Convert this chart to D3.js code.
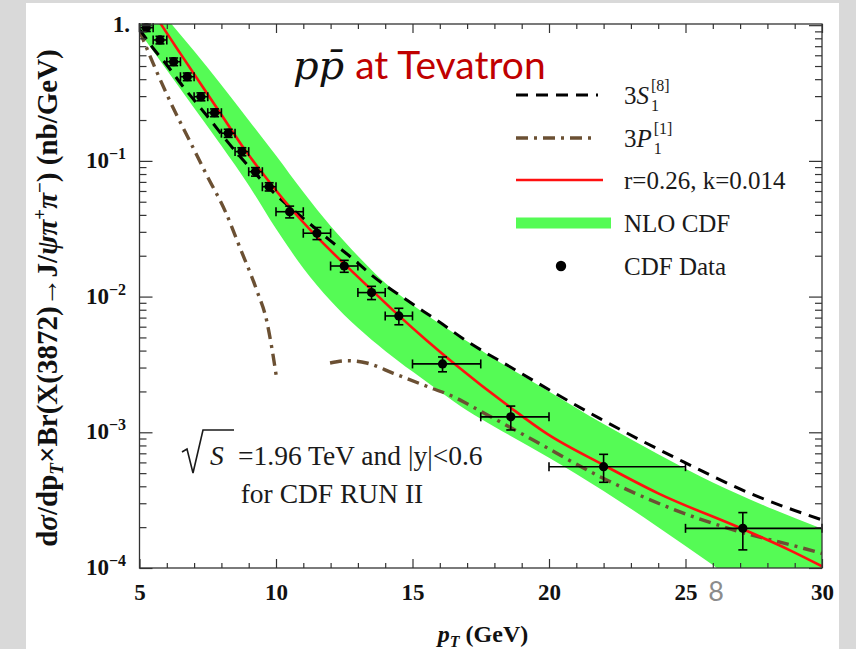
<!DOCTYPE html>
<html>
<head>
<meta charset="utf-8">
<script src="https://cdn.jsdelivr.net/npm/d3@7"></script>
<style>
  html, body { margin: 0; padding: 0; background: #d9d9d9; }
  svg { display: block; }
</style>
</head>
<body>
<svg id="chart" width="856" height="649"></svg>
<script>
// ---- CDF Run II data: dσ/dpT × Br(X(3872) → J/ψ π+ π−), nb/GeV ----
const dataPt    = [5.25, 5.75, 6.25, 6.75, 7.25, 7.75, 8.25, 8.75, 9.25, 9.75, 10.5, 11.5, 12.5, 13.5, 14.5, 16.1, 18.6, 22.0, 27.1];
const dataPtLo  = [5.0, 5.5, 6.0, 6.5, 7.0, 7.5, 8.0, 8.5, 9.0, 9.5, 10, 11, 12, 13, 14, 15, 17.5, 20, 25];
const dataPtHi  = [5.5, 6.0, 6.5, 7.0, 7.5, 8.0, 8.5, 9.0, 9.5, 10, 11, 12, 13, 14, 15, 17.5, 20, 25, 30];
const dataSigma = [0.958, 0.778, 0.538, 0.417, 0.297, 0.2265, 0.160, 0.117, 0.0832, 0.0645, 0.0422, 0.0293, 0.0168, 0.0107, 0.0072, 0.00319, 0.00130, 0.000558, 0.000196];
const dataErr   = [0.06, 0.05, 0.035, 0.027, 0.02, 0.015, 0.011, 0.008, 0.006, 0.0045, 0.0042, 0.003, 0.0017, 0.0012, 0.001, 0.0004, 0.00026, 0.00013, 0.00006];

// ---- NLO CDF band ----
const bandPt = [5, 6, 7, 8, 9, 10, 11, 12, 13, 14, 15, 16, 17, 18, 20, 22, 24, 26, 28, 30];
const bandHi = [1.995, 1.122, 0.646, 0.363, 0.1995, 0.1096, 0.0589, 0.0331, 0.01995, 0.01259, 0.00871, 0.00631, 0.00468, 0.00347, 0.0020, 0.00115, 0.00069, 0.000427, 0.000282, 0.000195];
const bandLo = [0.891, 0.468, 0.245, 0.129, 0.0661, 0.0316, 0.0162, 0.00933, 0.00589, 0.00398, 0.00280, 0.00200, 0.00145, 0.00110, 0.00065, 0.000370, 0.000200, 0.000105, 0.000054, 0.000028];

// ---- 3S1[8] contribution ----
const s8Pt  = [5.0, 5.5, 6.0, 6.6, 7.1, 7.64, 8.19, 9.0, 10.0, 11.1, 12.0, 12.8, 13.56, 14.79, 16.0, 17.0, 18.57, 21.87, 24.91, 27.36, 30.0];
const s8Val = [0.933, 0.676, 0.509, 0.352, 0.265, 0.195, 0.141, 0.0912, 0.0562, 0.0363, 0.0257, 0.0191, 0.0141, 0.00944, 0.00646, 0.00468, 0.00304, 0.00126, 0.000608, 0.000355, 0.000226];

// ---- 3P1[1] contribution (changes sign between ~10 and ~12 GeV) ----
const p1aPt  = [5.0, 5.63, 6.24, 6.85, 7.46, 8.16, 8.68, 9.29, 9.66, 9.84, 10.03];
const p1aVal = [0.912, 0.454, 0.244, 0.139, 0.0787, 0.0417, 0.0229, 0.0112, 0.00661, 0.00427, 0.00245];
const p1bPt  = [11.98, 12.59, 13.32, 14.3, 15.4, 16.62, 17.0, 19.42, 21.87, 24.31, 26.75, 29.19, 30.0];
const p1bVal = [0.00324, 0.00337, 0.00324, 0.00272, 0.00223, 0.00178, 0.00162, 0.000877, 0.000471, 0.000283, 0.000191, 0.000142, 0.000128];

// ---- fit r=0.26, k=0.014 ----
const fitPt  = [5.0, 5.81, 6.5, 7.25, 8.0, 8.75, 9.5, 10.5, 11.5, 12.5, 13.5, 14.5, 15.5, 16.5, 18.61, 19.92, 21.99, 24.0, 27.06, 28.83, 30.0];
const fitVal = [1.82, 1.0, 0.617, 0.367, 0.219, 0.130, 0.0813, 0.0457, 0.0275, 0.0174, 0.0112, 0.00724, 0.00479, 0.00324, 0.00151, 0.000977, 0.000575, 0.000355, 0.000195, 0.000135, 0.000103];

// ---- axes ----
const xMajor = [5, 10, 15, 20, 25, 30];
const xMinor = d3.range(6, 30).filter(v => v % 5 !== 0);
const yMajor = [1e-4, 1e-3, 1e-2, 1e-1, 1];
const yMajorExp = [-4, -3, -2, -1, 0];
const yMinor = [];
[-4, -3, -2, -1].forEach(e => { for (let k = 2; k <= 9; k++) yMinor.push(k * Math.pow(10, e)); });

const legendLabels = ["3S", "3P", "r=0.26, k=0.014", "NLO CDF", "CDF Data"];

// ---- colours ----
const GREEN = "#55fb55", RED = "#ff1010", BROWN = "#6b5033";
const SERIF = "'Liberation Serif', 'Times New Roman', serif";

const W = 856, H = 649;
const svg = d3.select("#chart");

// slide background
svg.append("rect").attr("width", W).attr("height", H).attr("fill", "#d9d9d9");
svg.append("rect").attr("x", 26).attr("y", 3).attr("width", 813).attr("height", H - 3).attr("fill", "#ffffff");

const x = d3.scaleLinear().domain([5, 30]).range([139.5, 822]);
const y = d3.scaleLog().domain([1e-4, 1.02]).range([568, 24]);

svg.append("clipPath").attr("id", "plotclip").append("rect")
  .attr("x", x(5)).attr("y", y(1.02))
  .attr("width", x(30) - x(5)).attr("height", y(1e-4) - y(1.02));

const plot = svg.append("g").attr("clip-path", "url(#plotclip)");

// band
const area = d3.area()
  .x((d, i) => x(bandPt[i]))
  .y0((d, i) => y(bandLo[i]))
  .y1((d, i) => y(bandHi[i]))
  .curve(d3.curveMonotoneX);
plot.append("path").datum(bandPt).attr("d", area).attr("fill", GREEN);

const line = d3.line().x(d => x(d[0])).y(d => y(d[1])).curve(d3.curveMonotoneX);
const zipPts = (a, b) => a.map((v, i) => [v, b[i]]);

// 3P1[1]
[[p1aPt, p1aVal], [p1bPt, p1bVal]].forEach(([p, v]) => {
  plot.append("path").datum(zipPts(p, v)).attr("d", line)
    .attr("fill", "none").attr("stroke", BROWN).attr("stroke-width", 3.4)
    .attr("stroke-dasharray", "12,6,3,6");
});
// 3S1[8]
plot.append("path").datum(zipPts(s8Pt, s8Val)).attr("d", line)
  .attr("fill", "none").attr("stroke", "#000").attr("stroke-width", 3)
  .attr("stroke-dasharray", "12,8");
// fit
plot.append("path").datum(zipPts(fitPt, fitVal)).attr("d", line)
  .attr("fill", "none").attr("stroke", RED).attr("stroke-width", 2.6);

// data points with error bars
const pts = svg.append("g").attr("stroke", "#000").attr("stroke-width", 1.6);
const cap = 4.5;
dataPt.forEach((p, i) => {
  const cx = x(p), cy = y(dataSigma[i]);
  const yt = y(dataSigma[i] + dataErr[i]), yb = y(dataSigma[i] - dataErr[i]);
  const xl = x(dataPtLo[i]), xr = x(dataPtHi[i]);
  const g = pts.append("g");
  g.append("line").attr("x1", xl).attr("x2", xr).attr("y1", cy).attr("y2", cy);
  g.append("line").attr("x1", xl).attr("x2", xl).attr("y1", cy - cap).attr("y2", cy + cap);
  g.append("line").attr("x1", xr).attr("x2", xr).attr("y1", cy - cap).attr("y2", cy + cap);
  g.append("line").attr("x1", cx).attr("x2", cx).attr("y1", yt).attr("y2", yb);
  g.append("line").attr("x1", cx - cap).attr("x2", cx + cap).attr("y1", yt).attr("y2", yt);
  g.append("line").attr("x1", cx - cap).attr("x2", cx + cap).attr("y1", yb).attr("y2", yb);
  g.append("circle").attr("cx", cx).attr("cy", cy).attr("r", 4.6).attr("fill", "#000").attr("stroke", "none");
});

// frame and ticks
const axisCol = "#333";
function styleAxis(g) {
  g.select(".domain").remove();
  g.selectAll(".tick line").attr("stroke", axisCol).attr("stroke-width", 1.2);
}
svg.append("g").attr("transform", `translate(0,${y(1e-4)})`)
  .call(d3.axisBottom(x).tickValues(xMinor).tickSizeInner(-5).tickSizeOuter(0).tickFormat(""))
  .call(styleAxis);
const xAx = svg.append("g").attr("transform", `translate(0,${y(1e-4)})`)
  .call(d3.axisBottom(x).tickValues(xMajor).tickSizeInner(-9).tickSizeOuter(0).tickPadding(16).tickFormat(d3.format("d")))
  .call(styleAxis);
xAx.selectAll(".tick text").attr("font-family", SERIF).attr("font-weight", "bold")
  .attr("font-size", 23).attr("fill", "#111");
svg.append("g").attr("transform", `translate(0,${y(1.02)})`)
  .call(d3.axisTop(x).tickValues(xMinor).tickSizeInner(-5).tickSizeOuter(0).tickFormat(""))
  .call(styleAxis);
svg.append("g").attr("transform", `translate(0,${y(1.02)})`)
  .call(d3.axisTop(x).tickValues(xMajor).tickSizeInner(-9).tickSizeOuter(0).tickFormat(""))
  .call(styleAxis);
svg.append("g").attr("transform", `translate(${x(5)},0)`)
  .call(d3.axisLeft(y).tickValues(yMinor).tickSizeInner(-7).tickSizeOuter(0).tickFormat(""))
  .call(styleAxis);
svg.append("g").attr("transform", `translate(${x(5)},0)`)
  .call(d3.axisLeft(y).tickValues(yMajor).tickSizeInner(-13).tickSizeOuter(0).tickFormat(""))
  .call(styleAxis);
svg.append("g").attr("transform", `translate(${x(30)},0)`)
  .call(d3.axisRight(y).tickValues(yMinor).tickSizeInner(-7).tickSizeOuter(0).tickFormat(""))
  .call(styleAxis);
svg.append("g").attr("transform", `translate(${x(30)},0)`)
  .call(d3.axisRight(y).tickValues(yMajor).tickSizeInner(-13).tickSizeOuter(0).tickFormat(""))
  .call(styleAxis);

svg.append("rect").attr("x", x(5)).attr("y", y(1.02))
  .attr("width", x(30) - x(5)).attr("height", y(1e-4) - y(1.02))
  .attr("fill", "none").attr("stroke", axisCol).attr("stroke-width", 1.3);

// y tick labels
yMajor.forEach((v, i) => {
  const t = svg.append("text").attr("x", yMajorExp[i] === 0 ? 130 : 126).attr("y", y(v) + 7)
    .attr("text-anchor", "end").attr("font-family", SERIF).attr("font-weight", "bold")
    .attr("font-size", 23).attr("fill", "#111");
  if (yMajorExp[i] === 0) { t.text("1."); }
  else {
    t.append("tspan").text("10");
    t.append("tspan").attr("dy", -9).attr("font-size", 16).text("\u2212" + (-yMajorExp[i]));
  }
});

// axis titles
const xt = svg.append("text").attr("x", 483).attr("y", 642).attr("text-anchor", "middle")
  .attr("font-family", SERIF).attr("font-weight", "bold").attr("font-size", 24).attr("fill", "#111");
xt.append("tspan").attr("font-style", "italic").text("p");
xt.append("tspan").attr("font-style", "italic").attr("font-size", 16).attr("dy", 5).text("T");
xt.append("tspan").attr("dy", -5).text(" (GeV)");

const yt = svg.append("text").attr("transform", "translate(57,298) rotate(-90)").attr("text-anchor", "middle")
  .attr("font-family", SERIF).attr("font-weight", "bold").attr("font-size", 29).attr("fill", "#111");
yt.append("tspan").text("d");
yt.append("tspan").attr("font-style", "italic").text("\u03c3");
yt.append("tspan").text("/dp");
yt.append("tspan").attr("font-style", "italic").attr("font-size", 19).attr("dy", 6).text("T");
yt.append("tspan").attr("dy", -6).text("\u00d7Br(X(3872)\u2192J/");
yt.append("tspan").attr("font-style", "italic").text("\u03c8\u03c0");
yt.append("tspan").attr("font-size", 19).attr("dy", -11).text("+");
yt.append("tspan").attr("font-style", "italic").attr("dy", 11).text("\u03c0");
yt.append("tspan").attr("font-size", 19).attr("dy", -11).text("\u2212");
yt.append("tspan").attr("dy", 11).text(") (nb/GeV)");

// title
const title = svg.append("text").attr("x", 293).attr("y", 79);
title.append("tspan").attr("font-family", "'DejaVu Serif', serif").attr("font-style", "italic")
  .attr("font-size", 40).attr("fill", "#111").text("pp\u0304");
title.append("tspan").attr("font-family", "Lato, 'Open Sans', sans-serif").attr("font-size", 39)
  .attr("fill", "#c00000").attr("dx", 11).text("at Tevatron");

// legend
const legX0 = 516, legX1 = 598, legTx = 624;
const legY = [95, 138, 180, 223, 266];
const leg = svg.append("g");
leg.append("line").attr("x1", legX0).attr("x2", legX1).attr("y1", legY[0]).attr("y2", legY[0])
  .attr("stroke", "#000").attr("stroke-width", 3).attr("stroke-dasharray", "12,8");
leg.append("line").attr("x1", legX0).attr("x2", legX1 - 4).attr("y1", legY[1]).attr("y2", legY[1])
  .attr("stroke", BROWN).attr("stroke-width", 3.4).attr("stroke-dasharray", "12,6,3,6");
leg.append("line").attr("x1", legX0).attr("x2", 603).attr("y1", legY[2]).attr("y2", legY[2])
  .attr("stroke", RED).attr("stroke-width", 2.6);
leg.append("rect").attr("x", legX0).attr("y", legY[3] - 5.5).attr("width", 95).attr("height", 11).attr("fill", GREEN);
leg.append("circle").attr("cx", 561).attr("cy", legY[4]).attr("r", 5.2).attr("fill", "#000");

function legText(i) {
  return leg.append("text").attr("x", legTx).attr("y", legY[i] + 9)
    .attr("font-family", SERIF).attr("font-size", 25).attr("fill", "#1a1a1a");
}
[[0, "S", "[8]"], [1, "P", "[1]"]].forEach(([i, letter, sup]) => {
  const t = legText(i);
  t.append("tspan").text("3");
  t.append("tspan").attr("font-style", "italic").text(letter);
  const wBase = t.node().getComputedTextLength();
  leg.append("text").attr("x", legTx + wBase + 2).attr("y", legY[i] - 4)
    .attr("font-family", SERIF).attr("font-size", 16).attr("fill", "#1a1a1a").text(sup);
  leg.append("text").attr("x", legTx + wBase + 2).attr("y", legY[i] + 16)
    .attr("font-family", SERIF).attr("font-size", 16).attr("fill", "#1a1a1a").text("1");
});
[2, 3, 4].forEach(i => legText(i).text(legendLabels[i]));

// collider conditions
svg.append("path")
  .attr("d", "M182,452 L187,449 L193,473 L203,430 L234,430")
  .attr("fill", "none").attr("stroke", "#1a1a1a").attr("stroke-width", 1.6);
const cond = svg.append("text").attr("y", 465)
  .attr("font-family", SERIF).attr("font-size", 27.5).attr("fill", "#1a1a1a");
cond.append("tspan").attr("x", 210).attr("font-style", "italic").text("S");
cond.append("tspan").attr("x", 238).text("=1.96 TeV and |y|<0.6");
svg.append("text").attr("x", 332).attr("y", 503).attr("text-anchor", "middle")
  .attr("font-family", SERIF).attr("font-size", 27.5).attr("fill", "#1a1a1a").text("for CDF RUN II");

// slide number
svg.append("text").attr("x", 716).attr("y", 601).attr("text-anchor", "middle")
  .attr("font-family", "Lato, 'Open Sans', sans-serif").attr("font-size", 27).attr("fill", "#8c8c8c").text("8");
</script>
</body>
</html>
